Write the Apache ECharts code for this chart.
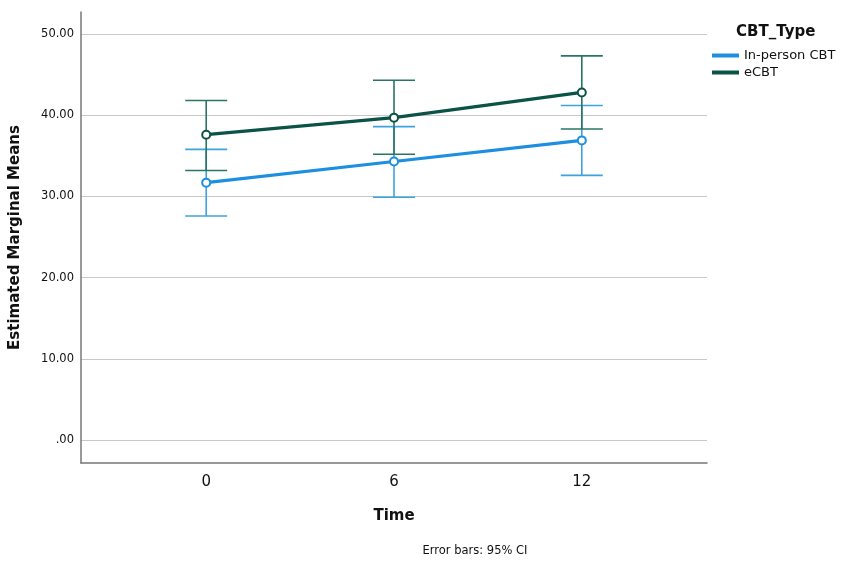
<!DOCTYPE html>
<html>
<head>
<meta charset="utf-8">
<script src="https://cdn.jsdelivr.net/npm/echarts@6/dist/echarts.min.js"></script>
<style>
  html, body { margin: 0; padding: 0; background: #fff; }
  #main { width: 851px; height: 562px; }
</style>
</head>
<body>
<div id="main"></div>
<script>
// data
var times = [0, 6, 12];
var groups = ['In-person CBT', 'eCBT'];
var inPersonMean = [31.7, 34.3, 36.9];
var inPersonLow = [27.6, 29.9, 32.6];
var inPersonHigh = [35.8, 38.6, 41.2];
var ecbtMean = [37.6, 39.7, 42.8];
var ecbtLow = [33.2, 35.2, 38.3];
var ecbtHigh = [41.8, 44.3, 47.3];

var fontFam = 'DejaVu Sans';
var chart = echarts.init(document.getElementById('main'));

function pairs(xs, ys) {
    return xs.map(function (x, i) { return [x, ys[i]]; });
}
function bars(xs, lo, hi) {
    return xs.map(function (x, i) { return [x, lo[i], hi[i]]; });
}
// vertical bar with caps
function errorItem(color) {
    return function (params, api) {
        var x = api.value(0);
        var top = api.coord([x, api.value(2)]);
        var bot = api.coord([x, api.value(1)]);
        var half = 21;
        var style = { stroke: color, lineWidth: 1.6 };
        return {
            type: 'group',
            children: [
                { type: 'line', shape: { x1: top[0], y1: top[1], x2: bot[0], y2: bot[1] }, style: style },
                { type: 'line', shape: { x1: top[0] - half, y1: top[1], x2: top[0] + half, y2: top[1] }, style: style },
                { type: 'line', shape: { x1: bot[0] - half, y1: bot[1], x2: bot[0] + half, y2: bot[1] }, style: style }
            ]
        };
    };
}

option = {
    backgroundColor: '#fff',
    animation: false,
    textStyle: { fontFamily: fontFam },
    title: [{
        text: 'CBT_Type',
        left: 731,
        top: 20,
        textStyle: { fontSize: 15, fontWeight: 'bold', color: '#111', fontFamily: fontFam }
    }, {
        text: 'Error bars: 95% CI',
        left: 470,
        top: 540,
        textAlign: 'center',
        textStyle: { fontSize: 11.5, fontWeight: 'normal', color: '#111', fontFamily: fontFam }
    }],
    legend: {
        orient: 'vertical',
        left: 707,
        top: 44,
        icon: 'rect',
        itemWidth: 27,
        itemHeight: 4,
        itemGap: 4,
        data: groups,
        textStyle: { fontSize: 13, color: '#111', fontFamily: fontFam }
    },
    grid: { left: 81, right: 144, top: 12, bottom: 99 },
    xAxis: {
        type: 'value',
        min: -4,
        max: 16,
        interval: 2,
        name: 'Time',
        nameLocation: 'middle',
        nameGap: 46,
        nameTextStyle: { fontSize: 15, fontWeight: 'bold', color: '#111' },
        axisLine: { onZero: false, lineStyle: { color: '#777', width: 1.5 } },
        axisTick: { show: false },
        splitLine: { show: false },
        axisLabel: {
            fontSize: 15,
            color: '#111',
            margin: 12,
            formatter: function (v) { return times.indexOf(v) >= 0 ? String(v) : ''; }
        }
    },
    yAxis: {
        type: 'value',
        min: -2.8,
        max: 52.7,
        name: 'Estimated Marginal Means',
        nameLocation: 'middle',
        nameGap: 58,
        nameTextStyle: { fontSize: 15, fontWeight: 'bold', color: '#111' },
        axisLine: { show: true, onZero: false, lineStyle: { color: '#777', width: 1.5 } },
        axisTick: { show: false },
        splitLine: { showMinLine: false, showMaxLine: false, lineStyle: { color: '#c8c8c8', width: 1.2 } },
        axisLabel: {
            fontSize: 11.5,
            color: '#111',
            margin: 7,
            showMinLabel: false,
            showMaxLabel: false,
            formatter: function (v) {
                if (Math.abs(v % 10) > 1e-6) return '';
                return v === 0 ? '.00' : v.toFixed(2);
            }
        }
    },
    series: [{
        name: groups[0] + ' CI',
        type: 'custom',
        renderItem: errorItem('#3da3dd'),
        encode: { x: 0, y: [1, 2] },
        data: bars(times, inPersonLow, inPersonHigh),
        z: 1
    }, {
        name: groups[1] + ' CI',
        type: 'custom',
        renderItem: errorItem('#287565'),
        encode: { x: 0, y: [1, 2] },
        data: bars(times, ecbtLow, ecbtHigh),
        z: 1
    }, {
        name: groups[0],
        type: 'line',
        data: pairs(times, inPersonMean),
        symbol: 'emptyCircle',
        symbolSize: 8,
        color: '#1e8fe0',
        lineStyle: { width: 3.2 },
        itemStyle: { borderWidth: 1.5 },
        z: 3
    }, {
        name: groups[1],
        type: 'line',
        data: pairs(times, ecbtMean),
        symbol: 'emptyCircle',
        symbolSize: 8,
        color: '#0b5247',
        lineStyle: { width: 3.2 },
        itemStyle: { borderWidth: 1.5 },
        z: 3
    }]
};
chart.setOption(option);
</script>
</body>
</html>
